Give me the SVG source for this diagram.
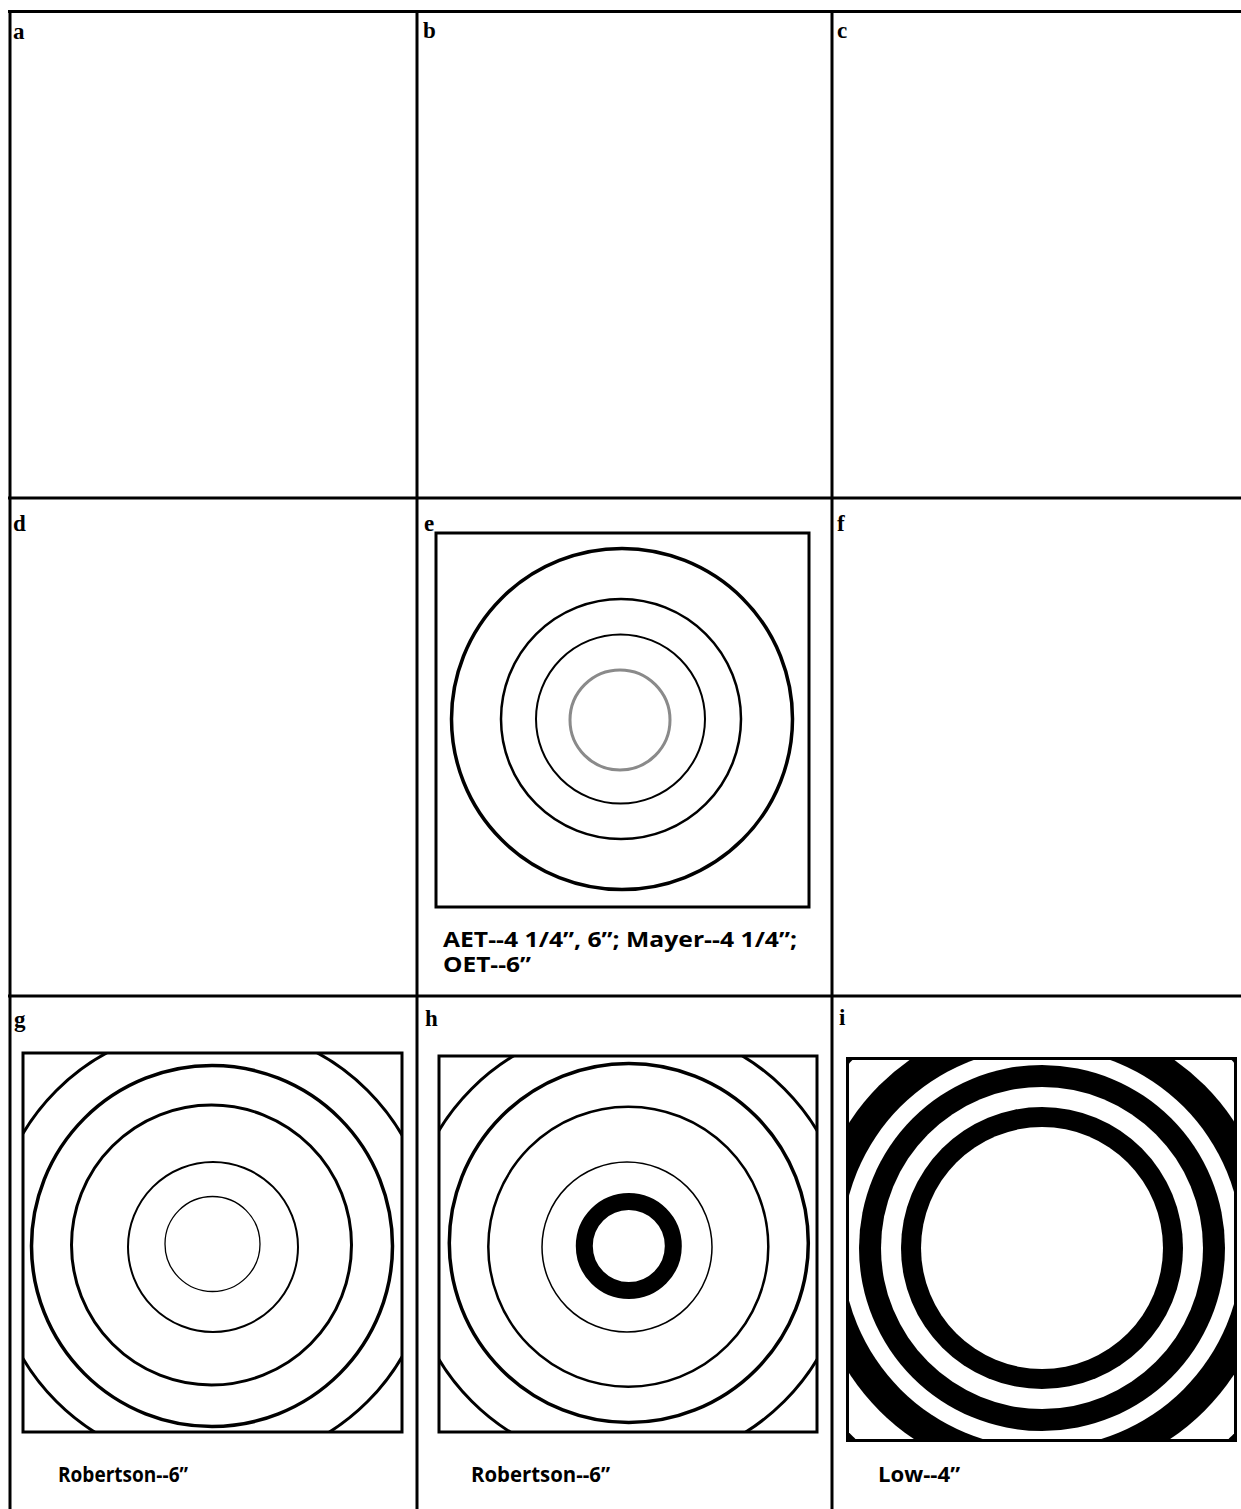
<svg xmlns="http://www.w3.org/2000/svg" width="1241" height="1509" viewBox="0 0 1241 1509">
<style>
.grid{stroke:#000;stroke-width:3;fill:none}
.lt{font-family:"Liberation Serif","Times New Roman",serif;font-weight:bold;font-size:23px;fill:#000}
.cap{font-family:"Open Sans","Liberation Sans",sans-serif;font-weight:bold;font-size:21px;fill:#000}
.box{fill:none;stroke:#000;stroke-width:3}
.ring{fill:none;stroke:#000}
.blk{fill:#000}
.wht{fill:#fff}
</style>
<defs>
<clipPath id="clipG"><rect x="23" y="1053" width="379" height="379"/></clipPath>
<clipPath id="clipH"><rect x="439" y="1056" width="378" height="376"/></clipPath>
<clipPath id="clipI"><rect x="849" y="1060" width="385" height="379"/></clipPath>
</defs>
<rect width="1241" height="1509" fill="#fff"/>
<g id="grid">
<line class="grid" x1="8" y1="11.5" x2="1241" y2="11.5"/>
<line class="grid" x1="10" y1="10" x2="10" y2="1509"/>
<line class="grid" x1="417" y1="10" x2="417" y2="1509"/>
<line class="grid" x1="832" y1="10" x2="832" y2="1509"/>
<line class="grid" x1="8" y1="498" x2="1241" y2="498"/>
<line class="grid" x1="8" y1="996" x2="1241" y2="996"/>
</g>
<g id="panel-a"><text class="lt" x="13" y="39">a</text></g>
<g id="panel-b"><text class="lt" x="423" y="38">b</text></g>
<g id="panel-c"><text class="lt" x="837" y="38">c</text></g>
<g id="panel-d"><text class="lt" x="13" y="531">d</text></g>
<g id="panel-e">
<text class="lt" x="424" y="531">e</text>
<rect class="box" x="436" y="533" width="373" height="374" stroke-width="2.5"/>
<circle class="ring" cx="622" cy="719" r="170.5" style="stroke-width:3.5"/>
<circle class="ring" cx="621" cy="719" r="120" style="stroke-width:2.5"/>
<circle class="ring" cx="620.5" cy="719" r="84.5" style="stroke-width:2"/>
<circle class="ring" cx="620" cy="720" r="50" style="stroke:#8a8a8a;stroke-width:3"/>
<text class="cap" x="443" y="947" textLength="354" lengthAdjust="spacingAndGlyphs">AET--4 1/4”, 6”; Mayer--4 1/4”;</text>
<text class="cap" x="443" y="972" textLength="88" lengthAdjust="spacingAndGlyphs">OET--6”</text>
</g>
<g id="panel-f"><text class="lt" x="837" y="531">f</text></g>
<g id="panel-g">
<text class="lt" x="14" y="1027">g</text>
<g clip-path="url(#clipG)"><circle class="ring" cx="212" cy="1246" r="220" style="stroke-width:3"/></g>
<rect class="box" x="23" y="1053" width="379" height="379"/>
<circle class="ring" cx="212" cy="1246" r="180.5" style="stroke-width:3.5"/>
<circle class="ring" cx="211.5" cy="1245" r="140" style="stroke-width:3"/>
<circle class="ring" cx="213" cy="1247" r="85" style="stroke-width:2"/>
<circle class="ring" cx="212.5" cy="1244" r="47.5" style="stroke-width:1.3"/>
<text class="cap" x="58" y="1482" textLength="130" lengthAdjust="spacingAndGlyphs" style="font-size:22px">Robertson--6”</text>
</g>
<g id="panel-h">
<text class="lt" x="425" y="1026">h</text>
<g clip-path="url(#clipH)"><circle class="ring" cx="628" cy="1245" r="221" style="stroke-width:3"/></g>
<rect class="box" x="439" y="1056" width="378" height="376"/>
<circle class="ring" cx="628.8" cy="1243" r="179.5" style="stroke-width:3.5"/>
<circle class="ring" cx="628.3" cy="1246.7" r="140" style="stroke-width:2.5"/>
<circle class="ring" cx="627" cy="1247" r="85" style="stroke-width:1.5"/>
<circle class="ring" cx="628.8" cy="1246" r="44.5" style="stroke-width:17"/>
<text class="cap" x="471" y="1482" textLength="139" lengthAdjust="spacingAndGlyphs" style="font-size:22px">Robertson--6”</text>
</g>
<g id="panel-i">
<text class="lt" x="839" y="1025">i</text>
<rect class="blk" x="846" y="1057" width="391" height="385"/>
<g clip-path="url(#clipI)">
<circle class="wht" cx="1042" cy="1248" r="267"/>
<circle class="blk" cx="1042" cy="1248" r="230"/>
<circle class="wht" cx="1042" cy="1248" r="200"/>
<circle class="blk" cx="1042" cy="1248" r="183"/>
<circle class="wht" cx="1042" cy="1248" r="161"/>
<circle class="blk" cx="1042" cy="1248" r="141"/>
<circle class="wht" cx="1042" cy="1248" r="121"/>
</g>
<text class="cap" x="878" y="1482" textLength="82" lengthAdjust="spacingAndGlyphs" style="font-size:22px">Low--4”</text>
</g>
</svg>
